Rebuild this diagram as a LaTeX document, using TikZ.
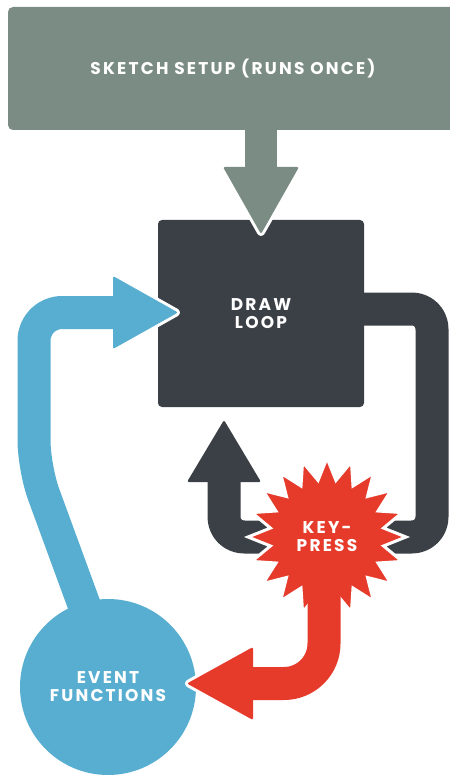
\documentclass[tikz,border=0pt]{standalone}
\usepackage{fontspec}
\newfontfamily\labfont[LetterSpace=13]{Poppins}
\usetikzlibrary{shapes.geometric}
\definecolor{setupgrey}{HTML}{7A8C84}
\definecolor{loopdark}{HTML}{3B4047}
\definecolor{evblue}{HTML}{58AED0}
\definecolor{keyred}{HTML}{E63B2B}
\begin{document}
\begin{tikzpicture}[x=1pt,y=-1pt,
  lbl/.style={text=white, font=\labfont\bfseries\fontsize{17}{18}\selectfont, align=center, inner sep=0pt},
  band/.style={line width=33pt, line cap=butt, line join=round},
  halo/.style={draw=white, line width=6pt, line join=round, rounded corners=2pt},
  headfill/.style={line join=round, rounded corners=2pt}
]
\useasboundingbox (0,0) rectangle (449,775);

% event functions circle
\node[circle, fill=evblue, minimum size=176pt, lbl] (ev) at (108,687) {EVENT\\FUNCTIONS};

% draw loop box
\node[fill=loopdark, rounded corners=4pt, minimum width=206pt, minimum height=187pt, lbl] (loop) at (261,313.5) {DRAW\\LOOP};

% blue arrow: event functions -> draw loop
\coordinate (b0) at (97,640);
\coordinate (b1) at (34,468);
\coordinate (b2) at (34,312.5);
\coordinate (b3) at (125,312.5);
\coordinate (bh1) at (113,276);
\coordinate (bh2) at (113,349);
\coordinate (bt) at (178,312.5);
\path[halo, fill=evblue] (bh1) -- (bt) -- (bh2) -- cycle;
\draw[band, evblue, rounded corners=28pt] (b0) -- (b1) -- (b2) -- (b3);
\fill[evblue, headfill] (bh1) -- (bt) -- (bh2) -- cycle;

% dark loop arrow
\coordinate (d0) at (350,309);
\coordinate (d1) at (432,309);
\coordinate (d2) at (432,537);
\coordinate (d3) at (224,537);
\coordinate (d4) at (224,470);
\coordinate (dh1) at (187,482);
\coordinate (dh2) at (261,482);
\coordinate (dt) at (224,420);
\draw[band, loopdark, rounded corners=20pt] (d0) -- (d1) -- (d2) -- (d3) -- (d4);
\fill[loopdark, headfill] (dh1) -- (dt) -- (dh2) -- cycle;

% key-press starburst
\node[star, star points=20, star point ratio=1.38, minimum size=158pt, fill=keyred, draw=white, line width=3pt, lbl] (key) at (327,537) {KEY-\\PRESS};

% red arrow: key-press -> event functions
\coordinate (r0) at (324,575);
\coordinate (r1) at (324,683.5);
\coordinate (r2) at (240,683.5);
\coordinate (rh1) at (253,647);
\coordinate (rh2) at (253,720);
\coordinate (rt) at (187,683.5);
\path[halo, fill=keyred] (rh1) -- (rt) -- (rh2) -- cycle;
\draw[band, keyred, rounded corners=40pt] (r0) -- (r1) -- (r2);
\fill[keyred, headfill] (rh1) -- (rt) -- (rh2) -- cycle;

% grey arrow: setup -> draw loop
\coordinate (g0) at (261,120);
\coordinate (g1) at (261,180);
\coordinate (gh1) at (223,167);
\coordinate (gh2) at (299,167);
\coordinate (gt) at (261,234);
\path[halo, fill=setupgrey] (gh1) -- (gt) -- (gh2) -- cycle;
\draw[line width=32pt, line cap=butt, setupgrey] (g0) -- (g1);
\fill[setupgrey, headfill] (gh1) -- (gt) -- (gh2) -- cycle;

% sketch setup box
\node[fill=setupgrey, rounded corners=5pt, minimum width=450pt, minimum height=123pt, lbl] (setup) at (233,68.5) {SKETCH SETUP (RUNS ONCE)};
\end{tikzpicture}
\end{document}
